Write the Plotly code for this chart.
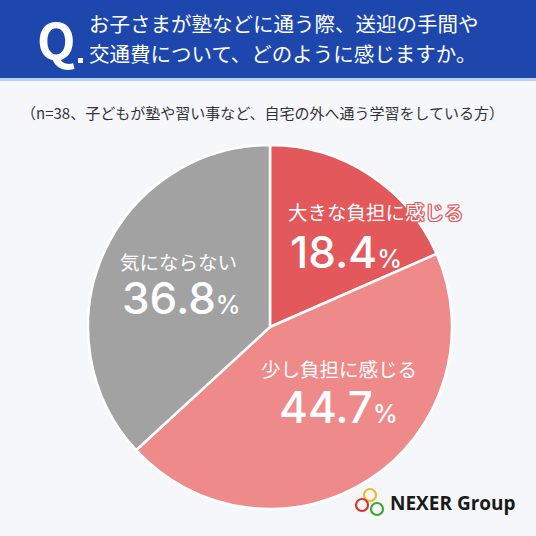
import plotly.graph_objects as go

# survey answers (n=38)
categories = ["大きな負担に感じる", "少し負担に感じる", "気にならない"]
values = [18.4, 44.7, 36.8]
colors = ["#E2585B", "#EF8A8A", "#A2A2A2"]

title_lines = ["お子さまが塾などに通う際、送迎の手間や", "交通費について、どのように感じますか。"]
subtitle = "（n=38、子どもが塾や習い事など、自宅の外へ通う学習をしている方）"

W = H = 536
JP = "Noto Sans CJK JP"
NUM = "Inter"


def px(x, y):
    # pixel position -> paper coords
    return x / W, 1 - y / H


fig = go.Figure()
fig.add_trace(go.Pie(
    labels=categories, values=values,
    marker=dict(colors=colors, line=dict(color="white", width=2.5)),
    sort=False, direction="clockwise", rotation=0,
    textinfo="none", hoverinfo="skip", showlegend=False,
    domain=dict(x=[88 / W, 452 / W], y=[1 - 509 / H, 1 - 145 / H]),
))

shapes = []
# header band
shapes.append(dict(type="rect", xref="paper", yref="paper", x0=0, x1=1,
                   y0=1 - 78 / H, y1=1, fillcolor="#1E47AE", line_width=0, layer="below"))
shapes.append(dict(type="rect", xref="paper", yref="paper", x0=0, x1=1,
                   y0=1 - 81 / H, y1=1 - 78 / H, fillcolor="#B9D0F4", line_width=0, layer="below"))
# dot after the Q
d0 = px(78, 63)
d1 = px(83, 58)
shapes.append(dict(type="rect", xref="paper", yref="paper", x0=d0[0], x1=d1[0], y0=d0[1], y1=d1[1],
                   fillcolor="white", line_width=0))
# logo rings
for cx, cy, col in [(370, 495, "#F0B82A"), (362, 505, "#D9342B"), (377, 509, "#3FA535")]:
    x0, y0 = px(cx - 6, cy + 6)
    x1, y1 = px(cx + 6, cy - 6)
    shapes.append(dict(type="circle", xref="paper", yref="paper", x0=x0, x1=x1, y0=y0, y1=y1,
                       line=dict(color=col, width=2.2)))

annots = []


def add_text(x, y, text, size, color="white", family=JP, weight="normal", shadow="none", anchor="center"):
    ax, ay = px(x, y)
    annots.append(dict(x=ax, y=ay, xref="paper", yref="paper", text=text, showarrow=False,
                       xanchor=anchor, yanchor="middle",
                       font=dict(size=size, color=color, family=family, weight=weight, shadow=shadow)))


# header
add_text(35, 38, "Q", 50, family=JP, weight="bold", anchor="left")
add_text(87, 23, title_lines[0], 20.5, anchor="left")
add_text(87, 53, title_lines[1], 20.5, anchor="left")
add_text(262, 113, subtitle, 15, color="#333333")

# slice labels
outline = ", ".join(f"{dx}px {dy}px 0 {colors[0]}" for dx in (-1, 0, 1) for dy in (-1, 0, 1))
label_pos = [((376, 212), (346, 252)), ((339, 368), (338, 407)), ((178, 261), (181, 298))]
for cat, val, ((lx, ly), (nx, ny)), i in zip(categories, values, label_pos, range(3)):
    sh = outline if i == 0 else "none"
    add_text(lx, ly, cat, 19.5, shadow=sh)
    add_text(nx, ny, f"{val:.1f}<span style='font-size:25px'>%</span>", 44, family=NUM, weight=500)

# logo text
add_text(388, 503, "<b>NEXER</b> Group", 19, color="#1A1A1A", family="Open Sans", weight="bold", anchor="left")

fig.update_layout(
    width=W, height=H, margin=dict(l=0, r=0, t=0, b=0),
    paper_bgcolor="#F6F7FB", plot_bgcolor="#F6F7FB",
    shapes=shapes, annotations=annots,
)
fig.write_html("out.html", config={"displayModeBar": False},
               post_script="document.body.style.margin='0';")
